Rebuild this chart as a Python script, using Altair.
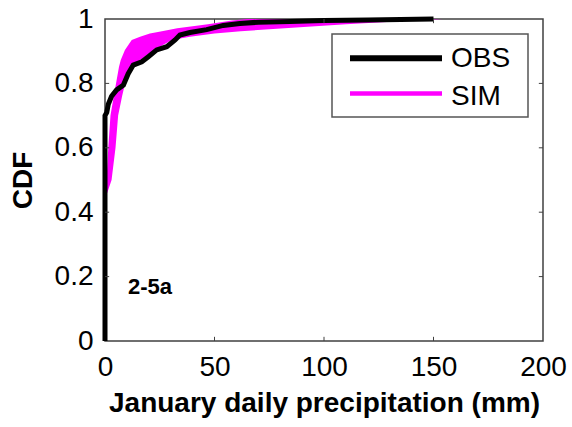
import altair as alt
import pandas as pd

# ---- data ----
obs_x = [0, 0, 0.8, 1.5, 3.0, 5.3, 8.4, 10.6, 12.9, 16.8, 19.8, 23.6, 28.2, 32.0,
         34.2, 38.8, 46.4, 54.0, 61.6, 70.0, 84.5, 100.0, 120.0, 150.0]
obs_cdf = [0, 0.70, 0.71, 0.735, 0.76, 0.78, 0.795, 0.83, 0.857, 0.867, 0.883, 0.904,
           0.914, 0.935, 0.95, 0.958, 0.967, 0.98, 0.986, 0.99, 0.992, 0.995, 0.997, 1.0]

sim_cdf = [0.46, 0.5, 0.6, 0.7, 0.76, 0.81, 0.852, 0.873, 0.904, 0.935, 0.945, 0.955,
           0.962, 0.971, 0.984, 0.995, 1.0]
sim_lo_x = [0.3, 0.7, 1.5, 2.5, 4.0, 5.3, 6.4, 7.2, 9.1, 12.2, 16.0, 20.5,
            26.0, 33.0, 47.0, 58.0, 65.0]
sim_hi_x = [1.0, 3.0, 4.8, 6.0, 7.8, 9.5, 13.0, 16.0, 22.5, 30.5, 38.8, 50.0,
            62.0, 82.0, 110.0, 141.0, 154.0]

x_ticks = [0, 50, 100, 150, 200]
y_ticks = [0, 0.2, 0.4, 0.6, 0.8, 1.0]
series_names = ["OBS", "SIM"]
panel_label = "2-5a"

FONT = "Liberation Sans"

obs_df = pd.DataFrame({"x": obs_x, "cdf": obs_cdf, "i": list(range(len(obs_x)))})
band_df = pd.DataFrame({"cdf": sim_cdf, "lo": sim_lo_x, "hi": sim_hi_x})

xscale = alt.Scale(domain=[0, 200], nice=False, zero=False)
yscale = alt.Scale(domain=[0, 1], nice=False, zero=False)

xaxis = alt.Axis(values=x_ticks, title="January daily precipitation (mm)",
                 labelFontSize=28, labelColor="black", labelFont=FONT, labelPadding=12,
                 titleFontSize=28, titleFontWeight="bold", titleFont=FONT, titleColor="black",
                 titlePadding=8, labelFlush=False, labelOverlap=False,
                 grid=False, ticks=False, domain=False)
yaxis = alt.Axis(values=y_ticks, format="~g", title="CDF",
                 labelFontSize=28, labelColor="black", labelFont=FONT, labelPadding=12,
                 titleFontSize=28, titleFontWeight="bold", titleFont=FONT, titleColor="black",
                 titlePadding=17, labelFlush=False, labelOverlap=False,
                 grid=False, ticks=False, domain=False)

band = alt.Chart(band_df).mark_area(orient="horizontal", color="#FF00FF", opacity=1).encode(
    y=alt.Y("cdf:Q", scale=yscale, axis=yaxis),
    x=alt.X("lo:Q", scale=xscale, axis=xaxis),
    x2="hi:Q",
)

obs_line = alt.Chart(obs_df).mark_line(color="black", strokeWidth=5, strokeJoin="miter").encode(
    x=alt.X("x:Q", scale=xscale, axis=xaxis),
    y=alt.Y("cdf:Q", scale=yscale, axis=yaxis),
    order="i:Q",
)

# inward ticks (MATLAB-style box)
tick_x_df = pd.DataFrame({"t": x_ticks[1:-1]})
tick_y_df = pd.DataFrame({"t": y_ticks[1:-1]})
tick_color = "#404040"
bottom_ticks = alt.Chart(tick_x_df).mark_rule(color=tick_color, strokeWidth=1).encode(
    x=alt.X("t:Q", scale=xscale, axis=xaxis),
    y=alt.datum(0, scale=yscale), y2=alt.datum(0.013))
top_ticks = alt.Chart(tick_x_df).mark_rule(color=tick_color, strokeWidth=1).encode(
    x=alt.X("t:Q", scale=xscale, axis=xaxis),
    y=alt.datum(1, scale=yscale), y2=alt.datum(0.987))
left_ticks = alt.Chart(tick_y_df).mark_rule(color=tick_color, strokeWidth=1).encode(
    y=alt.Y("t:Q", scale=yscale, axis=yaxis),
    x=alt.datum(0, scale=xscale), x2=alt.datum(1.9))
right_ticks = alt.Chart(tick_y_df).mark_rule(color=tick_color, strokeWidth=1).encode(
    y=alt.Y("t:Q", scale=yscale, axis=yaxis),
    x=alt.datum(200, scale=xscale), x2=alt.datum(198.1))

label_df = pd.DataFrame({"x": [10.5], "y": [0.168], "t": [panel_label]})
panel_text = alt.Chart(label_df).mark_text(
    font=FONT, fontSize=22, fontWeight="bold", color="black", align="left", baseline="middle"
).encode(x=alt.X("x:Q", scale=xscale, axis=xaxis), y=alt.Y("y:Q", scale=yscale, axis=yaxis), text="t:N")

# manual legend (pixel layout inside the plot area)
one = pd.DataFrame({"a": [0]})
legend_box = alt.Chart(one).mark_rect(fill="white", stroke="#555555", strokeWidth=1.5).encode(
    x=alt.value(227), x2=alt.value(423), y=alt.value(15), y2=alt.value(98))
leg_obs = alt.Chart(one).mark_rule(color="black", strokeWidth=6).encode(
    x=alt.value(245), x2=alt.value(337), y=alt.value(39.3))
leg_sim = alt.Chart(one).mark_rule(color="#FF00FF", strokeWidth=4.5).encode(
    x=alt.value(245), x2=alt.value(337), y=alt.value(74.5))
leg_obs_t = alt.Chart(pd.DataFrame({"t": [series_names[0]]})).mark_text(
    font=FONT, fontSize=28, color="black", align="left", baseline="alphabetic").encode(
    x=alt.value(346), y=alt.value(47.7), text="t:N")
leg_sim_t = alt.Chart(pd.DataFrame({"t": [series_names[1]]})).mark_text(
    font=FONT, fontSize=28, color="black", align="left", baseline="alphabetic").encode(
    x=alt.value(346), y=alt.value(86), text="t:N")

chart = alt.layer(
    band, obs_line, bottom_ticks, top_ticks, left_ticks, right_ticks, panel_text,
    legend_box, leg_obs, leg_sim, leg_obs_t, leg_sim_t
).properties(
    width=438, height=322,
    padding={"left": 105, "top": 19, "right": 29, "bottom": 86},
    autosize=alt.AutoSizeParams(type="none"),
    background="white",
).configure_view(stroke="#404040", strokeWidth=1.5)

chart.save("out.html", embed_options={"renderer": "svg", "actions": False})
